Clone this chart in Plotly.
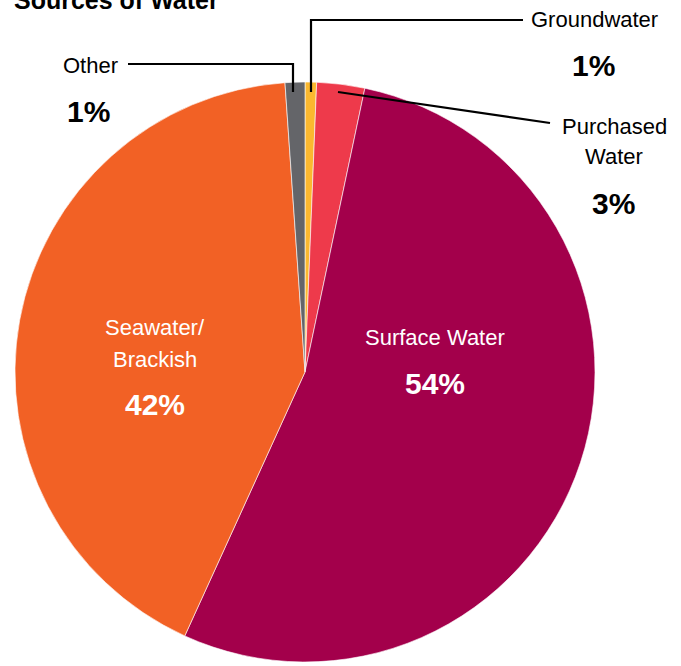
import plotly.graph_objects as go

# Données (en %)
sources = ["Groundwater", "Purchased Water", "Surface Water", "Seawater/Brackish", "Other"]
parts = [0.64, 2.67, 53.5, 42.1, 1.1]
couleurs = ["#FBB82F", "#EE3A4B", "#A3004B", "#F26125", "#646569"]
etiquettes_pct = ["1%", "3%", "54%", "42%", "1%"]

W, H = 681, 666
FONT = "Liberation Sans"


def px(x):
    return x / W


def py(y):
    return 1 - y / H


fig = go.Figure()
fig.add_trace(go.Pie(
    labels=sources, values=parts, sort=False, direction="clockwise", rotation=0,
    marker=dict(colors=couleurs, line=dict(color="white", width=0.6)),
    textinfo="none", hoverinfo="label+percent", showlegend=False,
    domain=dict(x=[px(305 - 290), px(305 + 290)], y=[py(372 + 291), py(372 - 291)]),
))

annots = []


def texte(x, y, t, size=22, bold=False, color="black"):
    annots.append(dict(x=px(x), y=py(y), xref="paper", yref="paper", text=t,
                       showarrow=False, xanchor="center", yanchor="middle",
                       font=dict(family=FONT, size=size, color=color,
                                 weight="bold" if bold else "normal")))


# titre (coupé en haut, comme sur l'original)
annots.append(dict(x=px(12), y=py(0), xref="paper", yref="paper", text="<b>Sources of Water</b>",
                   showarrow=False, xanchor="left", yanchor="middle",
                   font=dict(family=FONT, size=25, color="black")))

# étiquettes extérieures
texte(594, 20, sources[0])
texte(593, 66, etiquettes_pct[0], size=30, bold=True)
texte(614, 126, "Purchased")
texte(614, 157, "Water")
texte(613, 203, etiquettes_pct[1], size=30, bold=True)
texte(90, 66, sources[4])
texte(89, 112, etiquettes_pct[4], size=30, bold=True)

# étiquettes intérieures
texte(435, 337, sources[2], color="white")
texte(435, 383, etiquettes_pct[2], size=30, bold=True, color="white")
texte(155, 327, "Seawater/", color="white")
texte(155, 359, "Brackish", color="white")
texte(155, 404, etiquettes_pct[3], size=30, bold=True, color="white")

# traits de rappel
traits = [
    [(523, 20), (311, 20), (311, 92)],
    [(128, 64), (293, 64), (293, 92)],
    [(338, 92), (550, 123)],
]
shapes = []
for t in traits:
    chemin = "M " + " L ".join(f"{px(x)},{py(y)}" for x, y in t)
    shapes.append(dict(type="path", path=chemin, xref="paper", yref="paper",
                       line=dict(color="black", width=2.2)))

fig.update_layout(
    width=W, height=H, margin=dict(l=0, r=0, t=0, b=0),
    paper_bgcolor="white", plot_bgcolor="white",
    annotations=annots, shapes=shapes,
)

# pas de marge autour de la figure dans la page, pas de barre d'outils
fig.write_html("out.html", config={"displayModeBar": False},
               post_script="document.body.style.margin='0';")
